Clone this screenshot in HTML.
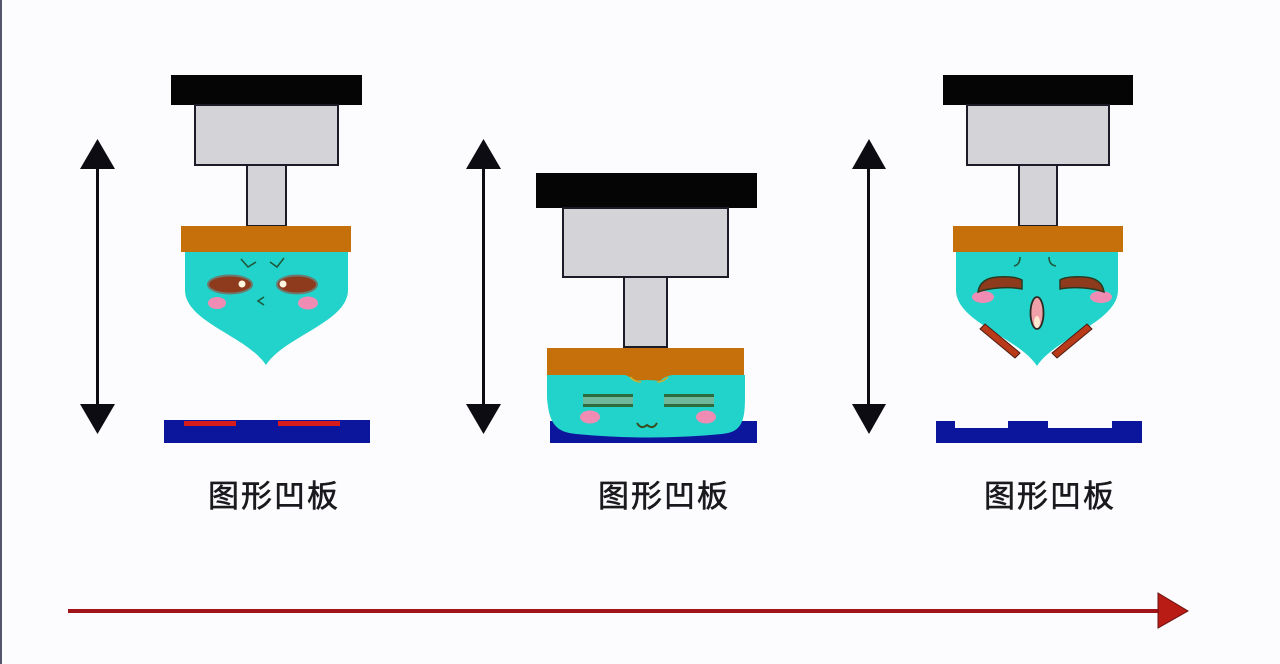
<!DOCTYPE html>
<html>
<head>
<meta charset="utf-8">
<style>
html,body{margin:0;padding:0;}
body{width:1280px;height:664px;background:#fcfcfe;overflow:hidden;}
svg{display:block;}
.lbl{font-family:"Liberation Sans","Noto Sans CJK SC",sans-serif;font-size:31px;fill:#1a1a1e;stroke:#1a1a1e;stroke-width:0.6;letter-spacing:2px;}
</style>
</head>
<body>
<svg width="1280" height="664" viewBox="0 0 1280 664" xmlns="http://www.w3.org/2000/svg">
  <rect x="0" y="0" width="1280" height="664" fill="#fcfcfe"/>
  <rect x="0" y="0" width="2" height="664" fill="#55566c"/>

  <!-- vertical arrows -->
  <g fill="#0c0c12" stroke="none">
    <rect x="96" y="166" width="3" height="241"/>
    <polygon points="80,169 97.5,139 115,169"/>
    <polygon points="80,404 97.5,434 115,404"/>

    <rect x="482" y="166" width="3" height="241"/>
    <polygon points="466,169 483.5,139 501,169"/>
    <polygon points="466,404 483.5,434 501,404"/>

    <rect x="867" y="166" width="3" height="241"/>
    <polygon points="852,169 869,139 886,169"/>
    <polygon points="852,404 869,434 886,404"/>
  </g>

  <!-- ========== Press 1 ========== -->
  <rect x="171" y="75" width="191" height="30" fill="#050505"/>
  <rect x="195" y="105" width="143" height="60" fill="#d4d4d8" stroke="#1c1c28" stroke-width="2"/>
  <rect x="247" y="165" width="39" height="61" fill="#d4d4d8" stroke="#1c1c28" stroke-width="2"/>
  <rect x="181" y="226" width="170" height="26" fill="#c6700c"/>
  <path d="M185,252 H348 V290 C348,322 285,336 266,365 C247,336 185,322 185,290 Z" fill="#21d3cb"/>
  <!-- brows -->
  <path d="M241,259 L248,267 L256,262" fill="none" stroke="#1f5a3c" stroke-width="1.6"/>
  <path d="M270,262 L277,267 L284,258" fill="none" stroke="#1f5a3c" stroke-width="1.6"/>
  <!-- eyes -->
  <ellipse cx="230" cy="284.5" rx="22" ry="9" fill="#8e3a1c" stroke="#6c7a70" stroke-width="2"/>
  <circle cx="242" cy="284" r="3.5" fill="#fff6e0"/>
  <ellipse cx="297" cy="284.5" rx="20" ry="9" fill="#8e3a1c" stroke="#6c7a70" stroke-width="2"/>
  <circle cx="283" cy="284" r="3.5" fill="#fff6e0"/>
  <!-- nose -->
  <path d="M264,297 L258,301 L264,305" fill="none" stroke="#1f5a3c" stroke-width="1.6"/>
  <!-- blush -->
  <ellipse cx="217" cy="303" rx="9" ry="6" fill="#f08cb4"/>
  <ellipse cx="308" cy="303" rx="10" ry="6.5" fill="#f08cb4"/>
  <!-- base -->
  <rect x="164" y="420" width="206" height="23" fill="#0c169c"/>
  <rect x="184" y="421" width="52" height="5" fill="#d81c1c"/>
  <rect x="278" y="421" width="62" height="5" fill="#d81c1c"/>

  <!-- ========== Press 2 ========== -->
  <rect x="536" y="173" width="221" height="35" fill="#050505"/>
  <rect x="563" y="208" width="165" height="69" fill="#d4d4d8" stroke="#1c1c28" stroke-width="2"/>
  <rect x="624" y="277" width="43" height="70" fill="#d4d4d8" stroke="#1c1c28" stroke-width="2"/>
  <rect x="550" y="421" width="207" height="22" fill="#0c169c"/>
  <path d="M547,375 H745 V398 C745,424 740,432 722,434 Q650,441 576,434 C556,432 549,424 547,398 Z" fill="#21d3cb"/>
  <rect x="547" y="348" width="197" height="27" fill="#c6700c"/>
  <path d="M622,374 Q630,376 634,381 Q647,379 660,381 Q664,376 677,374 Z" fill="#c6700c"/>
  <path d="M630,377 Q635,382 641,382" fill="none" stroke="#c9b030" stroke-width="1.6"/>
  <path d="M668,377 Q663,382 657,382" fill="none" stroke="#c9b030" stroke-width="1.6"/>
  <!-- closed eyes lines -->
  <rect x="583" y="394" width="50" height="3" fill="#2c6c3e"/>
  <rect x="583" y="397" width="50" height="7" fill="#6fb89c"/>
  <rect x="583" y="404" width="50" height="3" fill="#2c6c3e"/>
  <rect x="664" y="394" width="50" height="3" fill="#2c6c3e"/>
  <rect x="664" y="397" width="50" height="7" fill="#6fb89c"/>
  <rect x="664" y="404" width="50" height="3" fill="#2c6c3e"/>
  <!-- blush -->
  <ellipse cx="590" cy="417" rx="10" ry="6.5" fill="#f08cb4"/>
  <ellipse cx="706" cy="417" rx="10" ry="6.5" fill="#f08cb4"/>
  <!-- mouth -->
  <path d="M637,423 Q641,430 647,425 Q653,430 657,423" fill="none" stroke="#3a4a1c" stroke-width="2"/>

  <!-- ========== Press 3 ========== -->
  <rect x="943" y="75" width="190" height="30" fill="#050505"/>
  <rect x="967" y="105" width="142" height="60" fill="#d4d4d8" stroke="#1c1c28" stroke-width="2"/>
  <rect x="1019" y="165" width="38" height="61" fill="#d4d4d8" stroke="#1c1c28" stroke-width="2"/>
  <rect x="953" y="226" width="170" height="26" fill="#c6700c"/>
  <path d="M956,252 H1118 V290 C1118,322 1056,337 1037,366 C1018,337 956,322 956,290 Z" fill="#21d3cb"/>
  <!-- brows -->
  <path d="M1020,257 Q1020,265 1014,266" fill="none" stroke="#1f5a3c" stroke-width="1.6"/>
  <path d="M1049,257 Q1049,265 1056,266" fill="none" stroke="#1f5a3c" stroke-width="1.6"/>
  <!-- blush -->
  <ellipse cx="983" cy="297" rx="11" ry="6" fill="#f08cb4"/>
  <ellipse cx="1101" cy="297" rx="11" ry="6" fill="#f08cb4"/>
  <!-- closed eyes (thick bands) -->
  <path d="M978,292 Q980,278 998,277 Q1015,276 1022,280 L1022,289 Q1012,287 998,288 Q986,289 978,292 Z" fill="#8e3a1c" stroke="#2a3a20" stroke-width="1.5"/>
  <path d="M1104,292 Q1102,278 1084,277 Q1067,276 1060,280 L1060,289 Q1070,287 1084,288 Q1096,289 1104,292 Z" fill="#8e3a1c" stroke="#2a3a20" stroke-width="1.5"/>
  <!-- mouth -->
  <ellipse cx="1037" cy="313" rx="6.5" ry="16" fill="#f0a0a8" stroke="#2a2a20" stroke-width="1.8"/>
  <ellipse cx="1037" cy="322" rx="3" ry="6" fill="#fde8d0"/>
  <!-- chin bars -->
  <polygon points="980,329 985,324 1020,353 1015,358" fill="#b83a18" stroke="#4a1a10" stroke-width="1"/>
  <polygon points="1092,329 1087,324 1052,353 1057,358" fill="#b83a18" stroke="#4a1a10" stroke-width="1"/>
  <!-- base with notches -->
  <path d="M936,421 H955 V428 H1008 V421 H1048 V428 H1112 V421 H1142 V443 H936 Z" fill="#0c169c"/>

  <!-- labels -->
  <text class="lbl" x="274" y="507" text-anchor="middle">图形凹板</text>
  <text class="lbl" x="664" y="507" text-anchor="middle">图形凹板</text>
  <text class="lbl" x="1050" y="507" text-anchor="middle">图形凹板</text>

  <!-- bottom arrow -->
  <rect x="68" y="609" width="1092" height="4" fill="#a0141a"/>
  <polygon points="1158,593 1188,611 1158,628" fill="#b81c14" stroke="#6a1010" stroke-width="1"/>
</svg>
</body>
</html>
